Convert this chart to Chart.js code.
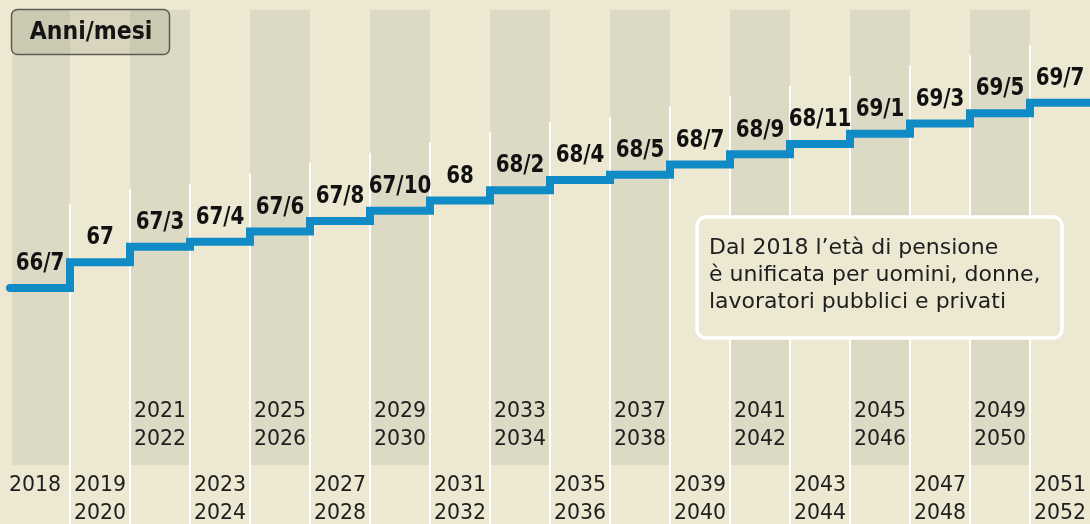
<!DOCTYPE html>
<html lang="it">
<head>
<meta charset="utf-8">
<title>Età di pensione</title>
<script src="https://cdn.jsdelivr.net/npm/chart.js@4.4.1/dist/chart.umd.min.js"></script>
<style>
  html, body { margin: 0; padding: 0; background: #ece8d2; }
  #wrap { width: 1090px; height: 524px; position: relative; }
</style>
</head>
<body>
<div id="wrap"><canvas id="pensioneChart"></canvas></div>
<script>
// Periodi (una colonna per periodo)
const periodi = [
    ['2018'], ['2019', '2020'], ['2021', '2022'], ['2023', '2024'], ['2025', '2026'],
    ['2027', '2028'], ['2029', '2030'], ['2031', '2032'], ['2033', '2034'], ['2035', '2036'],
    ['2037', '2038'], ['2039', '2040'], ['2041', '2042'], ['2043', '2044'], ['2045', '2046'],
    ['2047', '2048'], ['2049', '2050'], ['2051', '2052']
];

// Età di pensione: anni e mesi
const anni = [66, 67, 67, 67, 67, 67, 67, 68, 68, 68, 68, 68, 68, 68, 69, 69, 69, 69];
const mesi = [7, 0, 3, 4, 6, 8, 10, 0, 2, 4, 5, 7, 9, 11, 1, 3, 5, 7];

const titolo = 'Anni/mesi';
const nota = ['Dal 2018 l\u2019età di pensione', 'è unificata per uomini, donne,', 'lavoratori pubblici e privati'];

// età in mesi, e testo "anni/mesi"
const etaMesi = anni.map((a, i) => a * 12 + mesi[i]);
const etichette = anni.map((a, i) => mesi[i] ? a + '/' + mesi[i] : String(a));

// ogni periodo parte dall'inizio della sua colonna; l'ultimo gradino arriva al bordo destro
const punti = etaMesi.map((v, i) => ({ x: i, y: v }));
punti.push({ x: periodi.length, y: etaMesi[etaMesi.length - 1] });

const BG = '#ece8d2';
const BAND = '#dcdac4';
const BLUE = '#108bc5';
const FONT_NUM = '"DejaVu Sans Condensed", "DejaVu Sans", sans-serif';
const FONT_TXT = '"DejaVu Sans", sans-serif';

function roundRect(ctx, x, y, w, h, r) {
    ctx.beginPath();
    ctx.moveTo(x + r, y);
    ctx.arcTo(x + w, y, x + w, y + h, r);
    ctx.arcTo(x + w, y + h, x, y + h, r);
    ctx.arcTo(x, y + h, x, y, r);
    ctx.arcTo(x, y, x + w, y, r);
    ctx.closePath();
}

// Sfondo, colonne e riquadri
const sfondoPlugin = {
    id: 'sfondo',
    beforeDatasetsDraw(chart) {
        const { ctx, scales: { x, y } } = chart;
        const H = chart.height;
        ctx.save();
        ctx.fillStyle = BG;
        ctx.fillRect(0, 0, chart.width, H);

        // colonne scure alterne
        ctx.fillStyle = BAND;
        for (let i = 0; i < periodi.length; i += 2) {
            const x0 = x.getPixelForValue(i);
            const x1 = x.getPixelForValue(i + 1);
            ctx.fillRect(x0 + (i === 0 ? 2 : 0), 10, x1 - x0 - (i === 0 ? 2 : 0), 455);
        }

        // separatori bianchi
        ctx.strokeStyle = '#ffffff';
        ctx.lineWidth = 2;
        for (let i = 1; i < periodi.length; i++) {
            const px = Math.round(x.getPixelForValue(i));
            const top = y.getPixelForValue(etaMesi[i]) - 58;
            ctx.beginPath();
            ctx.moveTo(px, top);
            ctx.lineTo(px, H);
            ctx.stroke();
        }

        // riquadro "Anni/mesi"
        roundRect(ctx, 11.5, 9.5, 158, 45, 6);
        ctx.fillStyle = 'rgba(110,110,80,0.16)';
        ctx.fill();
        ctx.strokeStyle = '#5c5c52';
        ctx.lineWidth = 1.5;
        ctx.stroke();
        ctx.fillStyle = '#141414';
        ctx.font = 'bold 24.5px ' + FONT_NUM;
        ctx.textAlign = 'center';
        ctx.textBaseline = 'middle';
        ctx.fillText(titolo, 91, 33);

        // nota
        roundRect(ctx, 697, 217, 365, 121, 9);
        ctx.fillStyle = BG;
        ctx.fill();
        ctx.strokeStyle = '#ffffff';
        ctx.lineWidth = 3.5;
        ctx.stroke();
        ctx.fillStyle = '#1e1e1e';
        ctx.font = '22px ' + FONT_TXT;
        ctx.textAlign = 'left';
        nota.forEach((riga, k) => ctx.fillText(riga, 709, 248 + k * 27));
        ctx.restore();
    },
    afterDatasetsDraw(chart) {
        const { ctx, scales: { x, y } } = chart;
        ctx.save();
        ctx.textAlign = 'center';
        ctx.textBaseline = 'middle';

        // valori sopra ogni gradino (carattere stretto)
        ctx.fillStyle = '#111111';
        ctx.font = 'bold 24px ' + FONT_NUM;
        etichette.forEach((t, i) => {
            const cx = x.getPixelForValue(i + 0.5);
            ctx.save();
            ctx.translate(cx, y.getPixelForValue(etaMesi[i]) - 24);
            ctx.scale(0.92, 1);
            ctx.fillText(t, 0, 0);
            ctx.restore();
        });

        // anni sotto: colonne scure in alto, le altre in basso
        ctx.fillStyle = '#1e1e1e';
        ctx.font = '20.5px ' + FONT_TXT;
        periodi.forEach((righe, i) => {
            const cx = x.getPixelForValue(i + 0.5) - (i === 0 ? 5 : 0);
            const y0 = (i % 2 === 0 && i > 0) ? 412 : 486;
            righe.forEach((r, k) => ctx.fillText(r, cx, y0 + k * 28));
        });
        ctx.restore();
    }
};

const config = {
    type: 'line',
    data: {
        datasets: [{
            data: punti,
            stepped: 'before',
            borderColor: BLUE,
            borderWidth: 8,
            borderCapStyle: 'round',
            borderJoinStyle: 'miter',
            pointRadius: 0,
            fill: false,
            clip: false
        }]
    },
    options: {
        responsive: true,
        maintainAspectRatio: false,
        animation: false,
        devicePixelRatio: 1,
        layout: { padding: { left: 10, right: 0, top: 0, bottom: 0 } },
        plugins: {
            legend: { display: false },
            tooltip: { enabled: false }
        },
        scales: {
            x: { type: 'linear', min: 0, max: periodi.length, display: false },
            y: { type: 'linear', min: 753.1, max: 855, display: false }
        }
    },
    plugins: [sfondoPlugin]
};

new Chart(document.getElementById('pensioneChart').getContext('2d'), config);
</script>
</body>
</html>
